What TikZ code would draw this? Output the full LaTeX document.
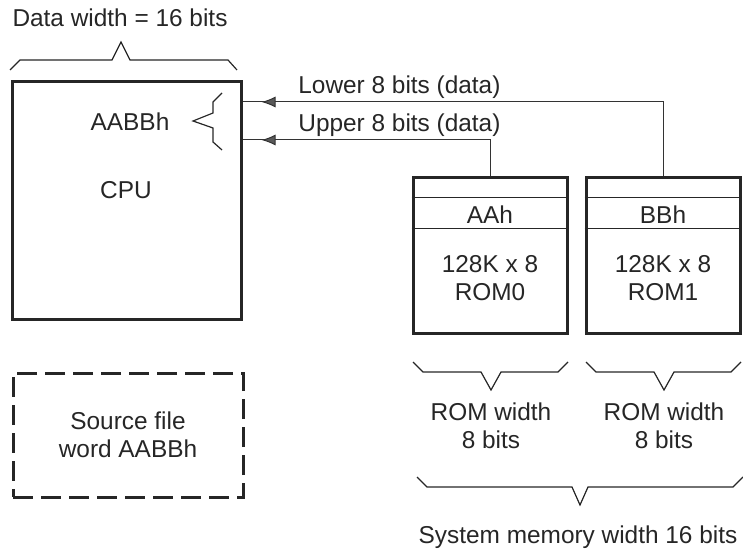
\documentclass[tikz,border=0pt]{standalone}
\usepackage{fontspec}
\setmainfont{Liberation Sans}
\usetikzlibrary{
  arrows.meta,
  decorations.markings,
}

\begin{document}
\begin{tikzpicture}[x=0.5pt, y=-0.5pt,
  every node/.style={font=\fontsize{12.2}{14}\selectfont, text=black!85, inner sep=0pt},
  unit/.style={draw=black!85, line width=1.5pt, minimum width=77pt, minimum height=77.5pt},
  brace/.style={draw=black!85, line width=0.6pt, line join=miter},
  bus/.style={draw=black!80, line width=0.5pt, postaction={decorate},
    decoration={markings, mark=at position -9.5pt with
      {\arrow{Latex[length=7pt, width=5.5pt, fill=black!65]}}}},
]
\useasboundingbox (0,0) rectangle (743,550);

% CPU side
\node[unit, minimum width=114.5pt, minimum height=119pt] (cpu) at (126.5,201) {};
\node (word) at (130,122) {AABBh};
\node (cpulabel) at (126,190) {CPU};
\node (datawidth) at (120,18) {Data width = 16 bits};
\draw[brace] (10,70) -- (20,60) -- (112,60) -- (121,42) -- (130,60) -- (228,60) -- (237,70);
\draw[brace] (222,93) -- (213,102) -- (213,113) -- (193,121) -- (213,128) -- (213,142) -- (222,150);

% memory
\node[unit] (rom0) at (490,255.5) {};
\node[unit] (rom1) at (663,255.5) {};
\foreach \r in {rom0,rom1} {
  \draw[line width=0.5pt, black!85] ([yshift=-10.5pt]\r.north west) -- ([yshift=-10.5pt]\r.north east);
  \draw[line width=0.5pt, black!85] ([yshift=-26pt]\r.north west) -- ([yshift=-26pt]\r.north east);
}
\node (aa) at (490,215) {AAh};
\node (bb) at (663,215) {BBh};
\node[align=center] (rom0label) at (490,278) {128K x 8\\ROM0};
\node[align=center] (rom1label) at (663,278) {128K x 8\\ROM1};

% data lines
\coordinate (lo) at (cpu.east |- 0,102);
\coordinate (up) at (cpu.east |- 0,140);
\draw[bus] (rom1.north) |- (lo);
\draw[bus] (rom0.north) |- (up);
\node[anchor=west] (lolabel) at (298,87) {Lower 8 bits (data)};
\node[anchor=west] (uplabel) at (298,125) {Upper 8 bits (data)};

% widths
\foreach \x in {0,173} {
  \draw[brace, xshift=\x*0.5pt] (413,362) -- (423,372) -- (481,372) -- (491,390) -- (501,372) -- (558,372) -- (568,362);
}
\node[align=center] (w0) at (491,426) {ROM width\\8 bits};
\node[align=center] (w1) at (664,426) {ROM width\\8 bits};
\draw[brace] (417,477) -- (427,487) -- (572,487) -- (580,505) -- (588,487) -- (733,487) -- (743,477);
\node (syswidth) at (578,537) {System memory width 16 bits};

% source file
\node[draw=black!85, line width=1.5pt, dash pattern=on 10pt off 4pt, align=center,
  minimum width=115pt, minimum height=62pt] (src) at (128,435) {Source file\\word AABBh};
\end{tikzpicture}
\end{document}
